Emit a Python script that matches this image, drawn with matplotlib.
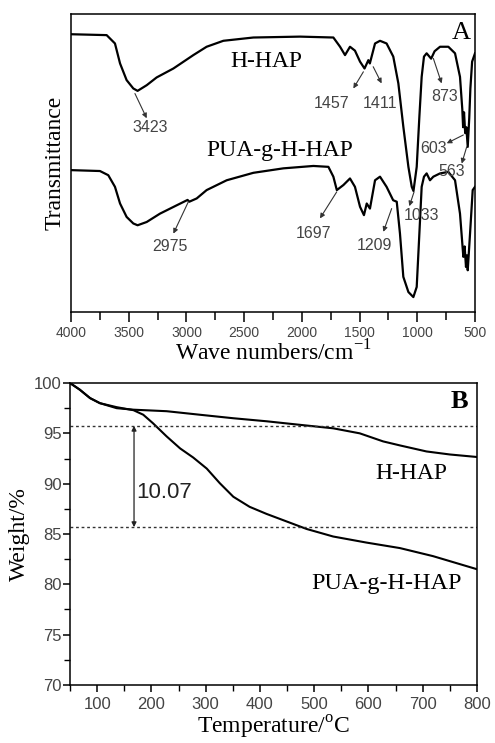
import matplotlib.pyplot as plt
from matplotlib.ticker import MultipleLocator

# ---------------- Panel A: FTIR spectra (arbitrary transmittance units) -------------
wn_hhap = [4000, 3691, 3619, 3575, 3518, 3460, 3423, 3344, 3258, 3113, 2940, 2825,
           2680, 2420, 2016, 1727, 1669, 1626, 1583, 1540, 1496, 1457, 1424, 1411,
           1366, 1323, 1266, 1208, 1164, 1121, 1077, 1048, 1033, 1005, 982, 962,
           942, 919, 880, 850, 803, 731, 673, 630, 610, 603, 595, 585, 575, 563,
           550, 540, 525, 500]
t_hhap = [93.2, 92.9, 90.1, 83.4, 77.8, 75.0, 74.2, 76.1, 78.7, 81.7, 86.2, 89.0,
          91.0, 92.1, 92.4, 92.1, 89.0, 86.2, 89.0, 87.7, 84.0, 81.7, 84.5, 83.4,
          90.1, 91.0, 90.1, 85.7, 76.7, 62.2, 48.7, 42.0, 40.6, 48.7, 65.5, 78.9,
          85.7, 86.8, 85.0, 87.5, 89.0, 89.0, 86.8, 78.9, 68.0, 62.0, 67.0, 60.0,
          62.0, 55.4, 65.0, 75.0, 84.0, 86.8]

wn_pua = [4000, 3749, 3677, 3619, 3575, 3518, 3460, 3423, 3344, 3229, 3084, 2990,
          2975, 2911, 2825, 2651, 2420, 2160, 1900, 1770, 1727, 1697, 1640, 1583,
          1540, 1496, 1462, 1438, 1410, 1366, 1323, 1266, 1209, 1178, 1150, 1121,
          1077, 1034, 1005, 982, 962, 942, 919, 890, 861, 803, 731, 673, 630, 601,
          590, 578, 570, 563, 543, 520, 500]
t_pua = [47.6, 47.3, 45.9, 42.0, 36.4, 31.9, 29.7, 29.1, 30.2, 33.0, 35.8, 37.6,
         37.0, 38.1, 40.9, 44.2, 46.7, 48.2, 49.0, 48.7, 45.4, 40.9, 42.6, 44.8,
         42.0, 35.3, 32.5, 36.4, 34.7, 44.2, 45.4, 42.0, 37.5, 37.0, 26.3, 11.8,
         6.7, 5.0, 8.4, 26.3, 42.0, 45.4, 46.5, 44.2, 45.4, 46.5, 47.0, 44.2, 33.0,
         18.5, 22.0, 15.1, 19.0, 14.0, 26.3, 40.9, 42.0]

# peak labels: (text, text x, text y, arrow tip x, arrow tip y, arrow tail x, arrow tail y)
peak_labels = [
    ("3423", 3310, 61.8, 3344, 65.0, 3446, 73.3),
    ("1457", 1742, 70.0, 1554, 75.0, 1467, 80.6),
    ("1411", 1323, 70.0, 1309, 76.7, 1382, 82.3),
    ("873", 760, 72.2, 789, 76.7, 861, 85.1),
    ("603", 861, 54.9, 745, 56.6, 601, 59.4),
    ("563", 702, 47.3, 615, 49.8, 572, 55.4),
    ("1033", 962, 32.5, 1069, 35.5, 1028, 40.3),
    ("2975", 3142, 22.1, 3113, 26.3, 2983, 37.0),
    ("1697", 1901, 26.3, 1843, 31.4, 1698, 40.3),
    ("1209", 1375, 22.4, 1294, 26.9, 1222, 34.7),
]

# ---------------- Panel B: TGA curves -------------
temp_hhap = [50, 68, 87, 105, 136, 167, 228, 289, 351, 412, 473, 535, 584, 627,
             658, 707, 750, 800]
w_hhap = [100.0, 99.34, 98.5, 98.0, 97.5, 97.35, 97.2, 96.85, 96.5, 96.2, 95.85,
          95.5, 95.0, 94.2, 93.8, 93.2, 92.9, 92.65]

temp_pua = [50, 68, 87, 105, 136, 167, 185, 203, 228, 253, 277, 302, 326, 351,
            381, 412, 449, 486, 535, 596, 658, 719, 800]
w_pua = [100.0, 99.34, 98.5, 98.0, 97.6, 97.3, 96.85, 96.0, 94.7, 93.5, 92.6,
         91.5, 90.05, 88.7, 87.7, 87.0, 86.25, 85.5, 84.75, 84.15, 83.6, 82.8, 81.5]

level_hi = 95.75
level_lo = 85.68
loss_at = 168

SERIF = ['Liberation Serif', 'DejaVu Serif']
SANS = ['Liberation Sans', 'DejaVu Sans']

fig = plt.figure(figsize=(4.95, 7.43), dpi=100)

# ===================== Panel A =====================
axA = fig.add_axes([0.1434, 0.5801, 0.8162, 0.4011])
axA.plot(wn_hhap, t_hhap, color='black', lw=1.6)
axA.plot(wn_pua, t_pua, color='black', lw=1.6)
axA.set_xlim(4000, 500)
axA.set_ylim(0, 100)
axA.set_yticks([])
axA.xaxis.set_major_locator(MultipleLocator(500))
axA.xaxis.set_minor_locator(MultipleLocator(250))
axA.tick_params(axis='x', which='major', direction='out', length=7, width=1.1,
                pad=3, labelsize=10, labelcolor='#444444')
axA.tick_params(axis='x', which='minor', direction='out', length=6, width=1.1)
for lab in axA.get_xticklabels():
    lab.set_family(SANS)
for s in axA.spines.values():
    s.set_linewidth(1.1)
axA.set_xlabel('Wave numbers/cm$^{\\mathregular{-1}}$', family=SERIF, fontsize=17,
               labelpad=0)
axA.set_ylabel('Transmittance', family=SERIF, fontsize=17, labelpad=4)

axA.text(2305, 84.0, 'H-HAP', family=SERIF, fontsize=17, ha='center', va='center')
axA.text(2189, 54.3, 'PUA-g-H-HAP', family=SERIF, fontsize=17, ha='center', va='center')
axA.text(615, 93.5, 'A', family=SERIF, fontsize=19, ha='center', va='center')

for txt, tx, ty, hx, hy, sx, sy in peak_labels:
    axA.annotate('', xy=(hx, hy), xytext=(sx, sy),
                 arrowprops=dict(arrowstyle='-|>', color='#333333', lw=0.8,
                                 mutation_scale=7, shrinkA=0, shrinkB=0))
    axA.text(tx, ty, txt, family=SANS, fontsize=11.5, color='#444444',
             ha='center', va='center')

# ===================== Panel B =====================
axB = fig.add_axes([0.1414, 0.0781, 0.8222, 0.4064])
axB.plot(temp_hhap, w_hhap, color='black', lw=1.5)
axB.plot(temp_pua, w_pua, color='black', lw=1.5)
axB.axhline(level_hi, color='#333333', lw=1.0, ls=(0, (2, 2)))
axB.axhline(level_lo, color='#333333', lw=1.0, ls=(0, (2, 2)))
axB.annotate('', xy=(loss_at, level_lo), xytext=(loss_at, level_hi),
             arrowprops=dict(arrowstyle='<|-|>', color='#222222', lw=0.9,
                             mutation_scale=7, shrinkA=0, shrinkB=0))
axB.text(loss_at + 5, 89.1, '10.07', family=SANS, fontsize=16, ha='left',
         va='center', color='#222222')
axB.text(679, 91.05, 'H-HAP', family=SERIF, fontsize=17, ha='center', va='center')
axB.text(633, 80.1, 'PUA-g-H-HAP', family=SERIF, fontsize=17.5, ha='center',
         va='center')
axB.text(767, 98.2, 'B', family=SERIF, fontsize=19, fontweight='bold',
         ha='center', va='center')

axB.set_xlim(50, 800)
axB.set_ylim(70, 100)
axB.set_xticks([100, 200, 300, 400, 500, 600, 700, 800])
axB.xaxis.set_minor_locator(MultipleLocator(50))
axB.yaxis.set_major_locator(MultipleLocator(5))
axB.yaxis.set_minor_locator(MultipleLocator(2.5))
axB.tick_params(which='major', direction='out', length=5, width=1.1,
                labelsize=12, labelcolor='#444444')
axB.tick_params(axis='x', which='major', pad=4)
axB.tick_params(axis='y', which='major', pad=1)
axB.tick_params(which='minor', direction='out', length=4, width=1.0)
for lab in axB.get_xticklabels() + axB.get_yticklabels():
    lab.set_family(SANS)
for s in axB.spines.values():
    s.set_linewidth(1.1)
axB.set_xlabel('Temperature/$^{\\mathregular{o}}$C', family=SERIF, fontsize=17,
               labelpad=1)
axB.set_ylabel('Weight/%', family=SERIF, fontsize=17, labelpad=3)

fig.savefig('out.png', dpi=100)
